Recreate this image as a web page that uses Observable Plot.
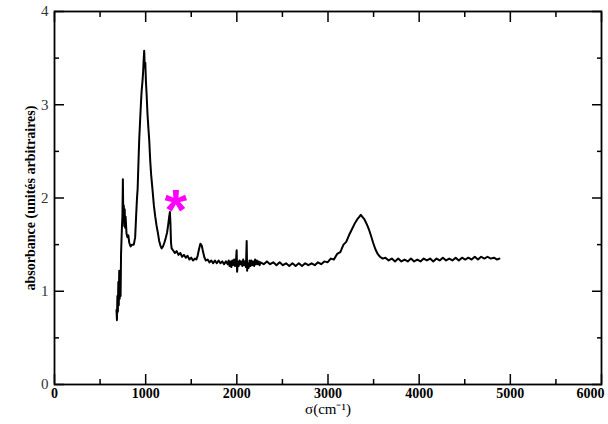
<!DOCTYPE html>
<html>
<head>
<meta charset="utf-8">
<script src="https://cdn.jsdelivr.net/npm/d3@7"></script>
<script src="https://cdn.jsdelivr.net/npm/@observablehq/plot@0.6"></script>
<style>
  html, body { margin: 0; padding: 0; background: #fff; }
  #chart { width: 608px; height: 424px; }
</style>
</head>
<body>
<div id="chart"></div>
<script>
// wavenumber (cm-1)
const wavenumber = [
  680, 685, 690, 695, 700, 705, 710, 715, 720, 725, 730, 735, 740, 745, 750, 755, 760, 765, 770, 775, 780, 790, 800, 810, 820, 835, 850, 870,
  885, 895, 905, 912, 920, 929, 940, 950, 956, 965, 972, 978, 984, 990, 996, 1003, 1010, 1020, 1030, 1039, 1050, 1060, 1076, 1090, 1105, 1120, 1135, 1148, 1162, 1175,
  1190, 1205, 1220, 1235, 1248, 1258, 1266, 1272, 1278, 1285,
  1300, 1320, 1340, 1360, 1380, 1400, 1420, 1440, 1460, 1480, 1500, 1520, 1540, 1555, 1570, 1585, 1600, 1615, 1630, 1645, 1660,
  1680, 1700, 1720, 1740, 1760, 1780, 1800, 1820, 1840, 1860, 1880, 1900,
  1910, 1920, 1930, 1940, 1950, 1960, 1970, 1980, 1990, 1998, 2003, 2010, 2020, 2030, 2040, 2050, 2060, 2070, 2080, 2090, 2100, 2108, 2113, 2120, 2130, 2140, 2150, 2160, 2170, 2180, 2190, 2200, 2210, 2220, 2230, 2240, 2250, 2260,
  2295, 2330, 2365, 2400, 2435, 2470, 2505, 2540, 2575, 2610, 2645, 2680, 2715, 2750, 2785, 2820, 2855, 2890, 2925, 2960,
  2995, 3030, 3065, 3100, 3135, 3170, 3200, 3230, 3260, 3290, 3320, 3345, 3360, 3375, 3400, 3425, 3450, 3470, 3495, 3520, 3545, 3570, 3600,
  3630, 3665, 3700, 3735, 3770, 3805, 3840, 3875, 3910, 3945, 3980, 4015, 4050, 4085, 4120, 4155, 4190, 4225, 4260, 4295, 4330, 4365, 4400,
  4435, 4470, 4505, 4540, 4575, 4610, 4645, 4680, 4715, 4750, 4785, 4820, 4855, 4880
];
// absorbance (arbitrary units)
const absorbance = [
  0.80, 0.69, 0.95, 0.78, 1.10, 0.85, 1.22, 0.92, 1.20, 0.95, 1.40, 1.55, 1.70, 1.80, 2.20, 1.75, 1.92, 1.70, 1.88, 1.68, 1.80, 1.62, 1.58, 1.60, 1.52, 1.48, 1.50, 1.50,
  1.58, 1.80, 2.00, 2.10, 2.35, 2.62, 2.85, 3.05, 3.15, 3.25, 3.35, 3.48, 3.58, 3.40, 3.45, 3.25, 3.12, 2.90, 2.75, 2.62, 2.40, 2.25, 2.08, 1.92, 1.80, 1.70, 1.62, 1.54, 1.49, 1.46,
  1.48, 1.52, 1.57, 1.63, 1.72, 1.80, 1.85, 1.72, 1.52, 1.46,
  1.44, 1.41, 1.43, 1.39, 1.41, 1.37, 1.39, 1.36, 1.38, 1.34, 1.36, 1.33, 1.35, 1.34, 1.38, 1.45, 1.51, 1.49, 1.42, 1.36, 1.33,
  1.34, 1.31, 1.33, 1.30, 1.33, 1.30, 1.33, 1.30, 1.32, 1.29, 1.32, 1.29,
  1.33, 1.27, 1.32, 1.26, 1.33, 1.28, 1.34, 1.27, 1.32, 1.44, 1.21, 1.32, 1.27, 1.33, 1.29, 1.32, 1.27, 1.34, 1.28, 1.32, 1.26, 1.54, 1.22, 1.30, 1.25, 1.33, 1.27, 1.33, 1.28, 1.32, 1.27, 1.34, 1.29, 1.33, 1.29, 1.32, 1.28, 1.31,
  1.29, 1.32, 1.29, 1.31, 1.28, 1.31, 1.28, 1.30, 1.27, 1.30, 1.27, 1.30, 1.27, 1.30, 1.28, 1.30, 1.28, 1.31, 1.29, 1.32,
  1.31, 1.35, 1.34, 1.40, 1.42, 1.50, 1.53, 1.60, 1.66, 1.72, 1.77, 1.80, 1.82, 1.80, 1.77, 1.72, 1.66, 1.60, 1.52, 1.45, 1.40, 1.37, 1.35,
  1.36, 1.33, 1.35, 1.32, 1.35, 1.32, 1.34, 1.32, 1.35, 1.32, 1.34, 1.32, 1.35, 1.33, 1.35, 1.32, 1.35, 1.33, 1.36, 1.33, 1.35, 1.33, 1.36,
  1.33, 1.36, 1.34, 1.36, 1.34, 1.37, 1.34, 1.37, 1.35, 1.37, 1.35, 1.36, 1.34, 1.35
];
const xMajorTicks = [0, 1000, 2000, 3000, 4000, 5000, 6000];
const xMinorTicks = [500, 1500, 2500, 3500, 4500, 5500];
const yMajorTicks = [0, 1, 2, 3, 4];
const yMinorTicks = [0.5, 1.5, 2.5, 3.5];
const xLabel = "σ(cm⁻¹)";
const yLabel = "absorbance (unités arbitraires)";
const markerText = ["*"];
const markerWavenumber = [1330];
const markerAbsorbance = [1.99];

const spectrum = wavenumber.map((w, i) => ({w, a: absorbance[i]}));
const markers = markerText.map((t, i) => ({t, w: markerWavenumber[i], a: markerAbsorbance[i]}));

const serif = "'Liberation Serif', 'Times New Roman', serif";
const noText = () => "";
const lastX = xMajorTicks[xMajorTicks.length - 1];

const chart = Plot.plot({
  width: 608,
  height: 424,
  marginLeft: 54,
  marginRight: 7,
  marginTop: 11,
  marginBottom: 40,
  style: {fontFamily: serif, background: "#fff", color: "#000"},
  x: {domain: [0, 6000]},
  y: {domain: [0, 4]},
  marks: [
    Plot.line(spectrum, {x: "w", y: "a", stroke: "#000", strokeWidth: 2, strokeLinejoin: "round"}),
    Plot.text(markers, {x: "w", y: "a", text: "t", fill: "#ff00ff", fontSize: 58, fontWeight: "bold", fontFamily: "'Liberation Sans', sans-serif", dy: 13}),
    // inward ticks
    Plot.axisX(xMajorTicks, {anchor: "bottom", tickSize: -10, tickFormat: noText, label: null, strokeWidth: 1.5}),
    Plot.axisX(xMinorTicks, {anchor: "bottom", tickSize: -5, tickFormat: noText, label: null, strokeWidth: 1.5}),
    Plot.axisX(xMajorTicks, {anchor: "top", tickSize: -10, tickFormat: noText, label: null, strokeWidth: 1.5}),
    Plot.axisX(xMinorTicks, {anchor: "top", tickSize: -5, tickFormat: noText, label: null, strokeWidth: 1.5}),
    Plot.axisY(yMajorTicks, {anchor: "left", tickSize: -10, tickFormat: noText, label: null, strokeWidth: 1.5}),
    Plot.axisY(yMinorTicks, {anchor: "left", tickSize: -5, tickFormat: noText, label: null, strokeWidth: 1.5}),
    Plot.axisY(yMajorTicks, {anchor: "right", tickSize: -10, tickFormat: noText, label: null, strokeWidth: 1.5}),
    Plot.axisY(yMinorTicks, {anchor: "right", tickSize: -5, tickFormat: noText, label: null, strokeWidth: 1.5}),
    // tick labels
    Plot.axisX(xMajorTicks.filter(d => d !== lastX), {anchor: "bottom", tickSize: 0, tickPadding: 4, fontSize: 14, fontWeight: "bold", label: null, tickFormat: d => String(d)}),
    Plot.axisX([lastX], {anchor: "bottom", tickSize: 0, tickPadding: 4, fontSize: 14, fontWeight: "bold", label: null, textAnchor: "end", dx: 3, tickFormat: d => String(d)}),
    Plot.axisY(yMajorTicks, {anchor: "left", tickSize: 0, tickPadding: 6, fontSize: 15, fill: "#333", label: null, tickFormat: d => String(d)}),
    // axis titles
    Plot.text([xLabel], {frameAnchor: "bottom", dy: 29, fontSize: 15, fill: "#000", textAnchor: "middle"}),
    Plot.text([yLabel], {frameAnchor: "left", dx: -24, rotate: -90, textAnchor: "middle", fontSize: 14, fontWeight: "bold", fill: "#000"}),
    Plot.frame({stroke: "#000", strokeWidth: 1.8})
  ]
});
document.getElementById("chart").append(chart);
</script>
</body>
</html>
